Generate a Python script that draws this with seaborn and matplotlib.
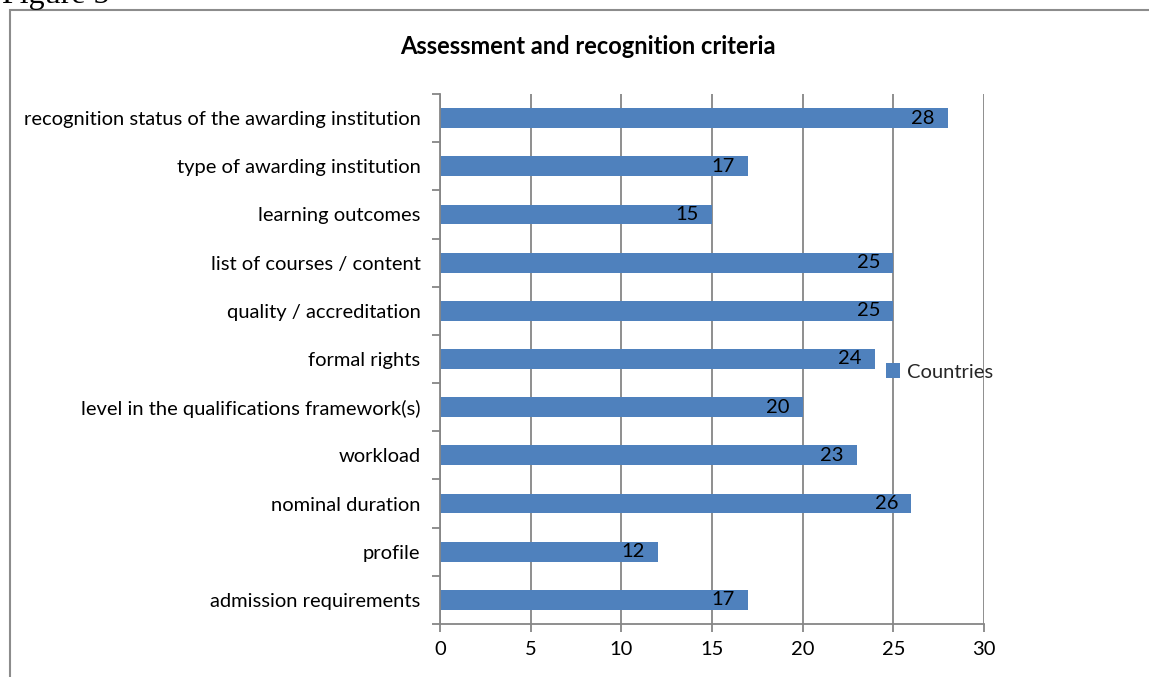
import matplotlib
matplotlib.use("Agg")
import matplotlib.pyplot as plt
import seaborn as sns
import pandas as pd
from matplotlib.ticker import FixedLocator
from matplotlib.patches import Rectangle

categories = [
    "recognition status of the awarding institution",
    "type of awarding institution",
    "learning outcomes",
    "list of courses / content",
    "quality / accreditation",
    "formal rights",
    "level in the qualifications framework(s)",
    "workload",
    "nominal duration",
    "profile",
    "admission requirements",
]
values = [28, 17, 15, 25, 25, 24, 20, 23, 26, 12, 17]
series_name = "Countries"
title = "Assessment and recognition criteria"
x_ticks = [0, 5, 10, 15, 20, 25, 30]

BAR = "#4F81BD"
GRID = "#868686"
FS = 14.5

sns.set_theme(style="white")
plt.rcParams["font.family"] = ["Lato", "DejaVu Sans"]

df = pd.DataFrame({"criterion": categories, "count": values, "series": series_name})

fig = plt.figure(figsize=(11.49, 6.77), dpi=100)
ax = fig.add_axes([440 / 1149, 1 - 624 / 677, 544 / 1149, 530 / 677])

sns.barplot(data=df, y="criterion", x="count", hue="series", orient="h",
            palette=[BAR], width=0.41, ax=ax, saturation=1, legend=True,
            linewidth=0)

ax.set_xlim(0, 30)
ax.set_ylim(len(categories) - 0.5, -0.5)
ax.xaxis.set_major_locator(FixedLocator(x_ticks))
ax.set_xticklabels([str(t) for t in x_ticks])
ax.set_xlabel("")
ax.set_ylabel("")

ax.grid(axis="x", color=GRID, linewidth=1.3)
ax.set_axisbelow(True)
for s in ["top", "right"]:
    ax.spines[s].set_visible(False)
for s in ["left", "bottom"]:
    ax.spines[s].set_color(GRID)
    ax.spines[s].set_linewidth(1.3)

ax.tick_params(axis="y", which="major", length=0, labelsize=FS, pad=14, labelcolor="black")
ax.yaxis.set_minor_locator(FixedLocator([i - 0.5 for i in range(len(categories) + 1)]))
ax.tick_params(axis="y", which="minor", length=6, color=GRID, width=1.3, left=True)
ax.tick_params(axis="x", which="major", length=6, color=GRID, width=1.3, bottom=True,
               labelsize=FS, pad=6, labelcolor="black")

for cont in ax.containers:
    for rect, v in zip(cont, values):
        y = rect.get_y() + rect.get_height() / 2
        ax.annotate(str(v), xy=(rect.get_width(), y), xytext=(-25, 0),
                    textcoords="offset pixels", ha="center", va="center",
                    fontsize=FS, color="black", zorder=5)

leg = ax.legend(loc="center left", bbox_to_anchor=(886 / 1149, 1 - 372 / 677),
                bbox_transform=fig.transFigure, frameon=False, fontsize=FS,
                handlelength=0.7, handleheight=0.7, handletextpad=0.35,
                borderpad=0, borderaxespad=0)

fig.text(588 / 1149, 1 - 47 / 677, title, ha="center", va="center",
         fontsize=17, fontweight="bold", color="black")

fig.patches.append(Rectangle((10 / 1149, -0.1), 1.2, 1 - 10 / 677 + 0.1,
                             transform=fig.transFigure, fill=False,
                             edgecolor="#8c8c8c", linewidth=1.5))
fig.text(2 / 1149, 1 + 5 / 677, "Figure 5", ha="left", va="center",
         fontsize=23, family=["Liberation Serif", "DejaVu Serif"], color="black")

fig.savefig("out.png", dpi=100)
